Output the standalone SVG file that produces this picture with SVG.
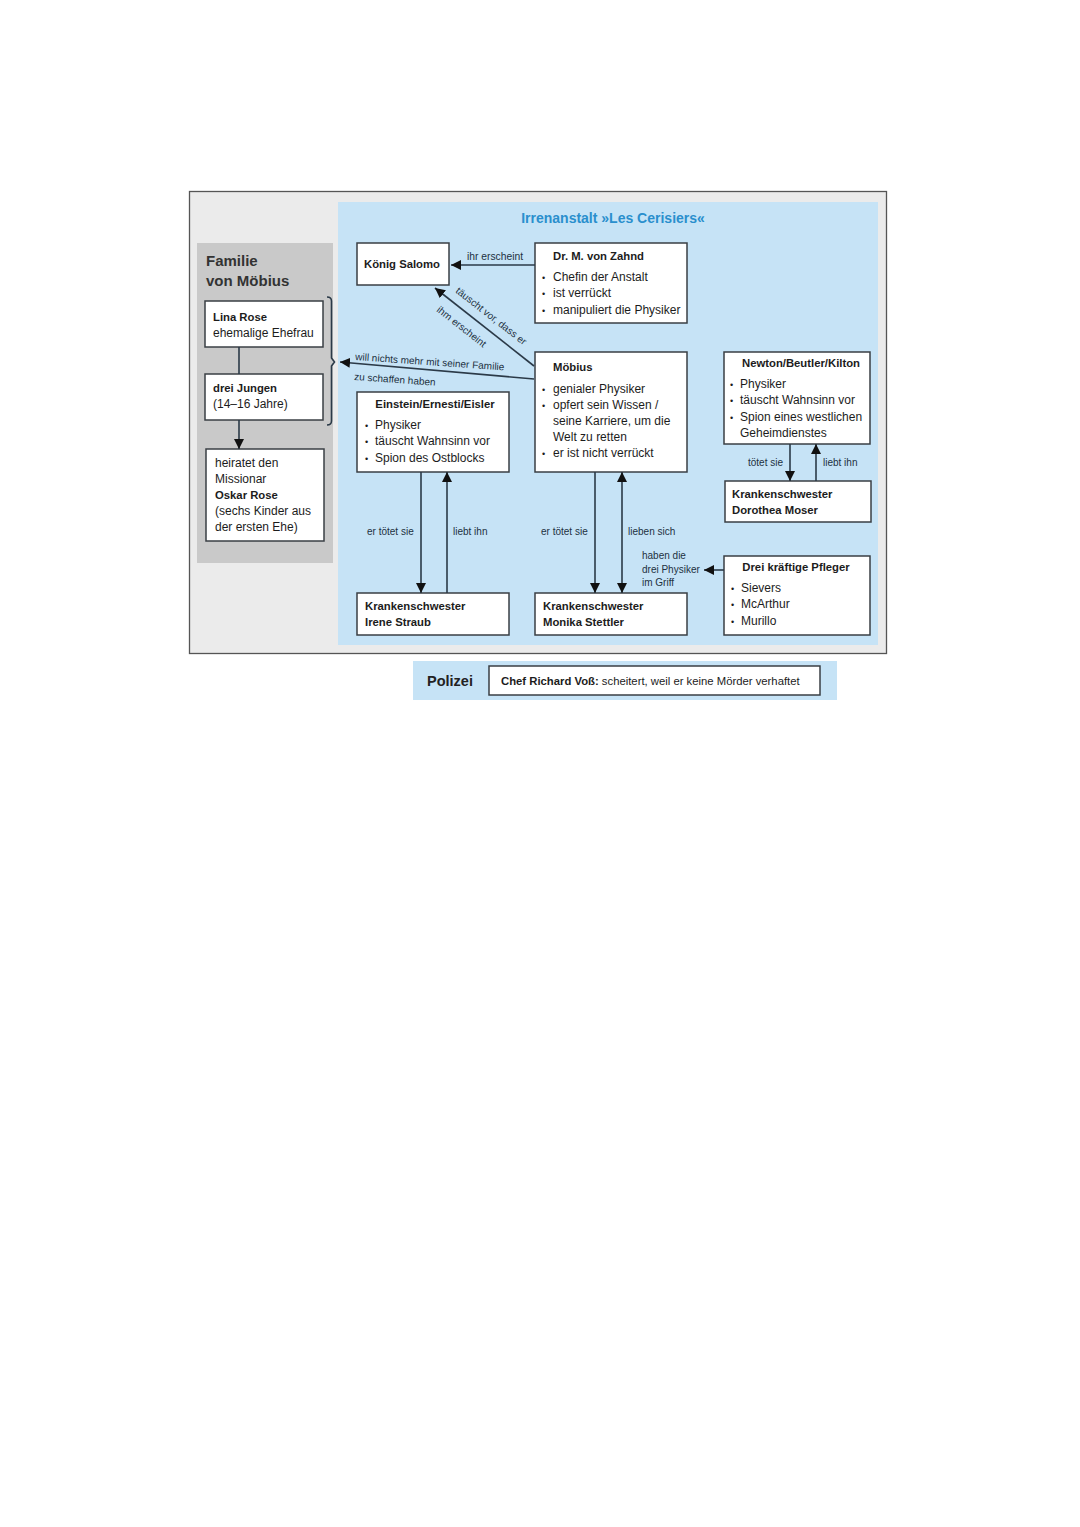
<svg xmlns="http://www.w3.org/2000/svg" width="1080" height="1527" viewBox="0 0 1080 1527">
<style>
text{font-family:"Liberation Sans",Arial,sans-serif;fill:#1c1c1c}
.t{font-size:12px}
.b{font-size:11.3px;font-weight:bold}
.lb{font-size:10px;fill:#22313f}
.bul{font-size:9px}
.box{fill:#fff;stroke:#3a3f44;stroke-width:1.5}
.ln{stroke:#2b3a48;stroke-width:1.6;fill:none}
.ar{stroke:#2b3a48;stroke-width:1.6;fill:none;marker-end:url(#ah)}
.ar2{stroke:#2b3a48;stroke-width:1.6;fill:none;marker-end:url(#ah);marker-start:url(#ah)}
</style>
<defs>
<marker id="ah" markerUnits="userSpaceOnUse" markerWidth="11" markerHeight="10" refX="10" refY="5" orient="auto-start-reverse" viewBox="0 0 11 10">
<path d="M0,0 L10,5 L0,10 z" fill="#111"/>
</marker>
</defs>
<rect width="1080" height="1527" fill="#fff"/>
<g id="frame">
<rect x="189.5" y="191.5" width="697" height="462" fill="#ebebeb" stroke="#555" stroke-width="1.3"/>
<rect x="338" y="202" width="540" height="443" fill="#c6e3f6"/>
<text x="613" y="223" text-anchor="middle" style="font-size:14px;font-weight:bold;fill:#2a8fcd">Irrenanstalt »Les Cerisiers«</text>
</g>
<g id="familie">
<rect x="197" y="243" width="136" height="320" fill="#c9c9c9"/>
<text x="206" y="266" style="font-size:15px;font-weight:bold;fill:#333">Familie</text>
<text x="206" y="286" style="font-size:15px;font-weight:bold;fill:#333">von Möbius</text>
</g>
<g id="lina">
<rect class="box" x="205" y="301" width="118" height="46"/>
<text class="b" x="213" y="321">Lina Rose</text>
<text class="t" x="213" y="337">ehemalige Ehefrau</text>
</g>
<g id="jungen">
<rect class="box" x="205" y="374" width="118" height="46"/>
<text class="b" x="213" y="392">drei Jungen</text>
<text class="t" x="213" y="408">(14–16 Jahre)</text>
</g>
<g id="oskar">
<rect class="box" x="206" y="449" width="118" height="92"/>
<text class="t" x="215" y="467">heiratet den</text>
<text class="t" x="215" y="483">Missionar</text>
<text class="b" x="215" y="499">Oskar Rose</text>
<text class="t" x="215" y="515">(sechs Kinder aus</text>
<text class="t" x="215" y="531">der ersten Ehe)</text>
</g>
<g id="salomo">
<rect class="box" x="357" y="243" width="92" height="42"/>
<text class="b" x="402" y="268" text-anchor="middle">König Salomo</text>
</g>
<g id="zahnd">
<rect class="box" x="535" y="243" width="152" height="80"/>
<text class="b" x="553" y="260">Dr. M. von Zahnd</text>
<text class="bul" x="542" y="281">•</text><text class="t" x="553" y="281">Chefin der Anstalt</text>
<text class="bul" x="542" y="297">•</text><text class="t" x="553" y="297">ist verrückt</text>
<text class="bul" x="542" y="314">•</text><text class="t" x="553" y="314">manipuliert die Physiker</text>
</g>
<g id="moebius">
<rect class="box" x="535" y="352" width="152" height="120"/>
<text class="b" x="553" y="371">Möbius</text>
<text class="bul" x="542" y="393">•</text><text class="t" x="553" y="393">genialer Physiker</text>
<text class="bul" x="542" y="409">•</text><text class="t" x="553" y="409">opfert sein Wissen /</text>
<text class="t" x="553" y="425">seine Karriere, um die</text>
<text class="t" x="553" y="441">Welt zu retten</text>
<text class="bul" x="542" y="457">•</text><text class="t" x="553" y="457">er ist nicht verrückt</text>
</g>
<g id="einstein">
<rect class="box" x="357" y="392" width="152" height="80"/>
<text class="b" x="435" y="408" text-anchor="middle">Einstein/Ernesti/Eisler</text>
<text class="bul" x="365" y="429">•</text><text class="t" x="375" y="429">Physiker</text>
<text class="bul" x="365" y="445">•</text><text class="t" x="375" y="445">täuscht Wahnsinn vor</text>
<text class="bul" x="365" y="462">•</text><text class="t" x="375" y="462">Spion des Ostblocks</text>
</g>
<g id="newton">
<rect class="box" x="724" y="352" width="146" height="92"/>
<text class="b" x="801" y="367" text-anchor="middle">Newton/Beutler/Kilton</text>
<text class="bul" x="730" y="388">•</text><text class="t" x="740" y="388">Physiker</text>
<text class="bul" x="730" y="404">•</text><text class="t" x="740" y="404">täuscht Wahnsinn vor</text>
<text class="bul" x="730" y="421">•</text><text class="t" x="740" y="421">Spion eines westlichen</text>
<text class="t" x="740" y="437">Geheimdienstes</text>
</g>
<g id="dorothea">
<rect class="box" x="725" y="481" width="146" height="41"/>
<text class="b" x="732" y="498">Krankenschwester</text>
<text class="b" x="732" y="514">Dorothea Moser</text>
</g>
<g id="irene">
<rect class="box" x="357" y="593" width="152" height="42"/>
<text class="b" x="365" y="610">Krankenschwester</text>
<text class="b" x="365" y="626">Irene Straub</text>
</g>
<g id="monika">
<rect class="box" x="535" y="593" width="152" height="42"/>
<text class="b" x="543" y="610">Krankenschwester</text>
<text class="b" x="543" y="626">Monika Stettler</text>
</g>
<g id="pfleger">
<rect class="box" x="724" y="556" width="146" height="79"/>
<text class="b" x="796" y="571" text-anchor="middle">Drei kräftige Pfleger</text>
<text class="bul" x="731" y="592">•</text><text class="t" x="741" y="592">Sievers</text>
<text class="bul" x="731" y="608">•</text><text class="t" x="741" y="608">McArthur</text>
<text class="bul" x="731" y="625">•</text><text class="t" x="741" y="625">Murillo</text>
</g>
<g id="polizei">
<rect x="413" y="661" width="424" height="39" fill="#c6e3f6"/>
<text x="427" y="686" style="font-size:14.5px;font-weight:bold;fill:#222">Polizei</text>
<rect class="box" x="489" y="666" width="331" height="29"/>
<text x="501" y="685" style="font-size:11.3px"><tspan font-weight="bold">Chef Richard Voß:</tspan> scheitert, weil er keine Mörder verhaftet</text>
</g>
<g id="connectors">
<line class="ln" x1="239" y1="347" x2="239" y2="374"/>
<line class="ar" x1="239" y1="420" x2="239" y2="449"/>
<path class="ln" d="M327,297 Q331.5,297 331.5,301 L331.5,358 L334.5,362 L331.5,366 L331.5,421 Q331.5,425 327,425" stroke-width="1.3"/>
<line class="ar" x1="535" y1="265" x2="451" y2="265"/>
<text class="lb" x="467" y="260" style="font-size:10.3px">ihr erscheint</text>
<line class="ar" x1="534" y1="366" x2="435" y2="288"/>
<text class="lb" transform="translate(455,292) rotate(38)">täuscht vor, dass er</text>
<text class="lb" transform="translate(436,311) rotate(38)">ihm erscheint</text>
<line class="ar" x1="534" y1="379" x2="340" y2="362"/>
<text class="lb" transform="translate(355,360) rotate(4)">will nichts mehr mit seiner Familie</text>
<text class="lb" transform="translate(354,380) rotate(4)">zu schaffen haben</text>
<line class="ar" x1="421" y1="472" x2="421" y2="593"/>
<line class="ar" x1="447" y1="593" x2="447" y2="472"/>
<text class="lb" x="367" y="535">er tötet sie</text>
<text class="lb" x="453" y="535">liebt ihn</text>
<line class="ar" x1="595" y1="472" x2="595" y2="593"/>
<line class="ar2" x1="622" y1="472" x2="622" y2="593"/>
<text class="lb" x="541" y="535">er tötet sie</text>
<text class="lb" x="628" y="535">lieben sich</text>
<line class="ar" x1="790" y1="444" x2="790" y2="481"/>
<line class="ar" x1="816" y1="481" x2="816" y2="444"/>
<text class="lb" x="748" y="466">tötet sie</text>
<text class="lb" x="823" y="466">liebt ihn</text>
<line class="ar" x1="724" y1="570" x2="704" y2="570"/>
<text class="lb" x="642" y="559">haben die</text>
<text class="lb" x="642" y="573">drei Physiker</text>
<text class="lb" x="642" y="586">im Griff</text>
</g>
</svg>
